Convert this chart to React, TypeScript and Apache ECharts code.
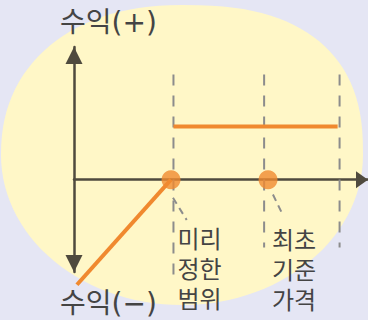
import React, { useEffect, useRef } from 'react';
import * as echarts from 'echarts';

// Conceptual payoff diagram (price on x, profit on y)
const X_MIN = 0;
const X_MAX = 30;
const Y_MIN = -8.7;
const Y_MAX = 12.5;

const lossSegment: number[][] = [[0.3, -9.9], [9.9, 0]];
const gainSegment: number[][] = [[10.15, 5], [26.9, 5]];
const keyPoints: number[][] = [[9.9, 0], [19.8, 0]];
const guideX: number[] = [10.15, 19.4, 27.1];
const guideTop: number = 9.9;
const guideBottom: number[] = [-9.1, -6.4, -6.4];
const leaderLines: number[][][] = [
  [[10.1, -1.7], [11.5, -3.8]],
  [[20.3, -1.4], [21.3, -3.3]],
];
const pointLabels: string[][] = [
  ['미리', '정한', '범위'],
  ['최초', '기준', '가격'],
];
const labelAnchors: number[][] = [[10.55, -5.45], [20.2, -5.55]];
const axisTitleTop = '수익(+)';
const axisTitleBottom = '수익(−)';

const ORANGE = '#f0892f';
const AXIS = '#4f4a3e';
const DASH = '#8c8c8c';
const TEXT = '#444444';
const FONT = '"Noto Sans CJK KR", "Noto Sans", sans-serif';
const TITLE_FONT = '"DejaVu Sans", "Noto Sans CJK KR", sans-serif';

// decorative rounded backdrop (superellipse quadrants, pixels)
function backdropPoints(): number[][] {
  const cx = 182, cy = 155, rx = 181, ry = 150;
  const pts: number[][] = [];
  for (let deg = 0; deg < 360; deg += 3) {
    const t = (deg * Math.PI) / 180;
    const c = Math.cos(t);
    const s = Math.sin(t);
    // screen y grows downward: s < 0 is the upper half
    let n = 2;
    if (s < 0 && c > 0) n = 2.5;
    else if (s < 0 && c <= 0) n = 2.2;
    const px = cx + rx * Math.sign(c) * Math.pow(Math.abs(c), 2 / n);
    const py = cy + ry * Math.sign(s) * Math.pow(Math.abs(s), 2 / n);
    pts.push([px, py]);
  }
  return pts;
}

export default function App() {
  const ref = useRef<HTMLDivElement>(null);
  useEffect(() => {
    const chart = echarts.init(ref.current!, null, { renderer: 'svg' });

    const series: any[] = [];
    guideX.forEach((x, i) => {
      series.push({
        type: 'line',
        data: [[x, guideTop], [x, guideBottom[i]]],
        symbol: 'none',
        silent: true,
        clip: false,
        z: 2,
        lineStyle: { color: DASH, width: 2, type: [11, 10] },
      });
    });
    leaderLines.forEach((seg) => {
      series.push({
        type: 'line',
        data: seg,
        symbol: 'none',
        silent: true,
        clip: false,
        z: 2,
        lineStyle: { color: DASH, width: 2, type: [7, 5] },
      });
    });
    series.push({
      type: 'line',
      data: lossSegment,
      symbol: 'none',
      silent: true,
      clip: false,
      z: 3,
      lineStyle: { color: ORANGE, width: 4, cap: 'butt' },
    });
    series.push({
      type: 'line',
      data: gainSegment,
      symbol: 'none',
      silent: true,
      clip: false,
      z: 3,
      lineStyle: { color: ORANGE, width: 4 },
    });
    series.push({
      type: 'scatter',
      data: keyPoints,
      symbol: 'circle',
      symbolSize: 19,
      silent: true,
      clip: false,
      z: 5,
      itemStyle: { color: ORANGE },
    });

    const baseGraphic: any[] = [
      {
        type: 'polygon',
        z: -1,
        silent: true,
        shape: { points: backdropPoints() },
        style: { fill: '#fff7c7' },
      },
      {
        type: 'text',
        x: 60,
        y: 22,
        silent: true,
        style: { text: axisTitleTop, font: `28px ${TITLE_FONT}`, fill: TEXT, verticalAlign: 'middle' },
      },
      {
        type: 'text',
        x: 60,
        y: 303,
        silent: true,
        style: { text: axisTitleBottom, font: `28px ${TITLE_FONT}`, fill: TEXT, verticalAlign: 'middle' },
      },
    ];

    chart.setOption({
      animation: false,
      backgroundColor: '#e5e6f4',
      grid: { left: 74, right: 0, top: 47, bottom: 48 },
      xAxis: {
        type: 'value',
        min: X_MIN,
        max: X_MAX,
        axisLine: {
          show: true,
          onZero: true,
          symbol: ['none', 'triangle'],
          symbolSize: [17, 12],
          symbolOffset: [0, -6],
          lineStyle: { color: AXIS, width: 2.5 },
        },
        axisTick: { show: false },
        axisLabel: { show: false },
        splitLine: { show: false },
      },
      yAxis: {
        type: 'value',
        min: Y_MIN,
        max: Y_MAX,
        axisLine: {
          show: true,
          onZero: true,
          symbol: ['triangle', 'triangle'],
          symbolSize: [17, 17],
          symbolOffset: [8.5, -8.5],
          lineStyle: { color: AXIS, width: 2.5 },
        },
        axisTick: { show: false },
        axisLabel: { show: false },
        splitLine: { show: false },
      },
      graphic: baseGraphic,
      series,
    });

    // point labels, one text per line, anchored through the grid's scales
    const labelGraphic: any[] = [];
    labelAnchors.forEach((p, i) => {
      const px = chart.convertToPixel({ gridIndex: 0 }, p) as number[];
      pointLabels[i].forEach((line, j) => {
        labelGraphic.push({
          type: 'text',
          x: px[0],
          y: px[1] + j * 30,
          silent: true,
          z: 10,
          style: {
            text: line,
            font: `24px ${FONT}`,
            fill: TEXT,
            align: 'left',
            verticalAlign: 'middle',
          },
        });
      });
    });
    chart.setOption({ graphic: [...baseGraphic, ...labelGraphic] }, { replaceMerge: ['graphic'] });

    return () => chart.dispose();
  }, []);
  return (
    <div
      ref={ref}
      style={{ position: 'fixed', left: 0, top: 0, width: 368, height: 320 }}
    />
  );
}
